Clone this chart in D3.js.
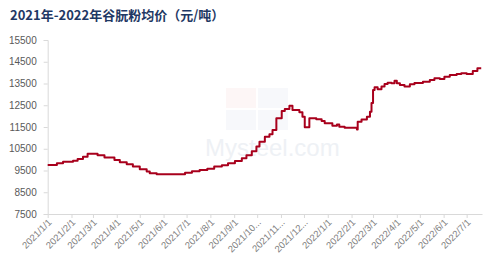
<!DOCTYPE html>
<html><head><meta charset="utf-8">
<script src="https://cdn.jsdelivr.net/npm/d3@7"></script>
<style>html,body{margin:0;padding:0;background:#fff;}svg{display:block;font-family:"Noto Sans CJK SC","Noto Sans",sans-serif;}</style>
</head><body>
<svg id="c" width="499" height="266"></svg>
<script>
const title = "2021年-2022年谷朊粉均价（元/吨）";
const yTicks = [7500, 8500, 9500, 10500, 11500, 12500, 13500, 14500, 15500];
const xTickDates = ["2021-01-01","2021-02-01","2021-03-01","2021-04-01","2021-05-01","2021-06-01","2021-07-01","2021-08-01","2021-09-01","2021-10-01","2021-11-01","2021-12-01","2022-01-01","2022-02-01","2022-03-01","2022-04-01","2022-05-01","2022-06-01","2022-07-01"];
const xTickLabels = ["2021/1/1","2021/2/1","2021/3/1","2021/4/1","2021/5/1","2021/6/1","2021/7/1","2021/8/1","2021/9/1","2021/10...","2021/11...","2021/12...","2022/1/1","2022/2/1","2022/3/1","2022/4/1","2022/5/1","2022/6/1","2022/7/1"];
const dates = ["2021-01-01","2021-01-13","2021-01-21","2021-02-03","2021-02-09","2021-02-16","2021-02-22","2021-03-07","2021-03-16","2021-03-29","2021-04-05","2021-04-14","2021-04-22","2021-05-01","2021-05-10","2021-05-14","2021-05-23","2021-06-29","2021-07-08","2021-07-18","2021-07-28","2021-08-06","2021-08-16","2021-08-24","2021-09-02","2021-09-11","2021-09-17","2021-09-24","2021-09-30","2021-10-04","2021-10-11","2021-10-17","2021-10-21","2021-10-26","2021-11-02","2021-11-06","2021-11-12","2021-11-16","2021-11-25","2021-11-29","2021-12-02","2021-12-08","2021-12-17","2021-12-24","2021-12-28","2022-01-03","2022-01-07","2022-01-13","2022-01-16","2022-01-23","2022-02-08","2022-02-09","2022-02-14","2022-02-21","2022-02-25","2022-02-27","2022-03-01","2022-03-03","2022-03-07","2022-03-12","2022-03-16","2022-03-20","2022-03-25","2022-03-29","2022-04-01","2022-04-05","2022-04-11","2022-04-18","2022-04-24","2022-05-05","2022-05-14","2022-05-20","2022-05-27","2022-06-02","2022-06-09","2022-06-18","2022-06-24","2022-07-01","2022-07-09","2022-07-15","2022-07-20"];
const prices = [9750,9830,9900,9950,10030,10130,10270,10200,10100,9980,9880,9790,9680,9560,9450,9370,9330,9400,9470,9520,9580,9680,9740,9830,9940,10060,10200,10380,10600,10820,11050,11170,11360,11900,12240,12330,12480,12280,12180,11970,11490,11900,11860,11780,11670,11670,11560,11620,11510,11470,11390,11740,11850,11970,12200,12600,13200,13330,13240,13360,13480,13540,13510,13630,13510,13430,13360,13460,13520,13580,13660,13740,13710,13810,13890,13940,13970,13940,14070,14200,14200];

const svg = d3.select("#c");
const parse = d3.timeParse("%Y-%m-%d");
const data = dates.map((d,i)=>({date: parse(d), value: prices[i]}));

const x = d3.scaleTime().domain([parse("2021-01-01"), parse("2022-07-21")]).range([47.7, 482]);
const y = d3.scaleLinear().domain([7500, 15500]).range([214, 40]);

// title
svg.append("text").attr("x", 10).attr("y", 20).attr("font-size", 13).attr("font-weight", "bold")
  .attr("fill", "#1f3864").text(title);

// watermark
const wm = svg.append("g").attr("opacity", 0.3);
wm.append("rect").attr("x",226).attr("y",88).attr("width",30).attr("height",20).attr("fill","#fbe3e3");
wm.append("rect").attr("x",258).attr("y",88).attr("width",30).attr("height",20).attr("fill","#e6ebf3");
wm.append("rect").attr("x",226).attr("y",110).attr("width",30).attr("height",20).attr("fill","#e6ebf3");
wm.append("rect").attr("x",258).attr("y",110).attr("width",30).attr("height",20).attr("fill","#e6ebf3");
svg.append("text").attr("x",205).attr("y",156).attr("font-size",24).attr("font-family","Liberation Sans, Arial, sans-serif")
  .attr("fill","#eef1f5").text("Mysteel.com");

// y axis
const yAxis = svg.append("g").attr("transform","translate(47.7,0)")
  .call(d3.axisLeft(y).tickValues(yTicks).tickSize(4).tickPadding(7).tickFormat(d3.format("d")));
yAxis.selectAll("path,line").attr("stroke","#d9d9d9");
yAxis.selectAll("text").attr("fill","#595959").attr("font-size",10).attr("font-family","Liberation Sans, Arial, sans-serif");

// x axis
const xAxis = svg.append("g").attr("transform","translate(0,214)")
  .call(d3.axisBottom(x).tickValues(xTickDates.map(parse)).tickSize(4).tickSizeOuter(0)
    .tickFormat((d,i)=>xTickLabels[i]));
xAxis.select("path").attr("stroke","#d9d9d9");
xAxis.selectAll("line").attr("stroke","#d9d9d9");
xAxis.selectAll("text").attr("fill","#808080").attr("font-size",9.5)
  .attr("font-family","Liberation Sans, Arial, sans-serif")
  .attr("text-anchor","end").attr("dy",null).attr("y",0)
  .attr("transform","translate(4,9) rotate(-45)");

// line
const line = d3.line().x(d=>x(d.date)).y(d=>y(d.value)).curve(d3.curveStepAfter);
svg.append("path").datum(data).attr("d", line).attr("fill","none")
  .attr("stroke","#a8001c").attr("stroke-width",2).attr("stroke-linejoin","round");
</script>
</body></html>
